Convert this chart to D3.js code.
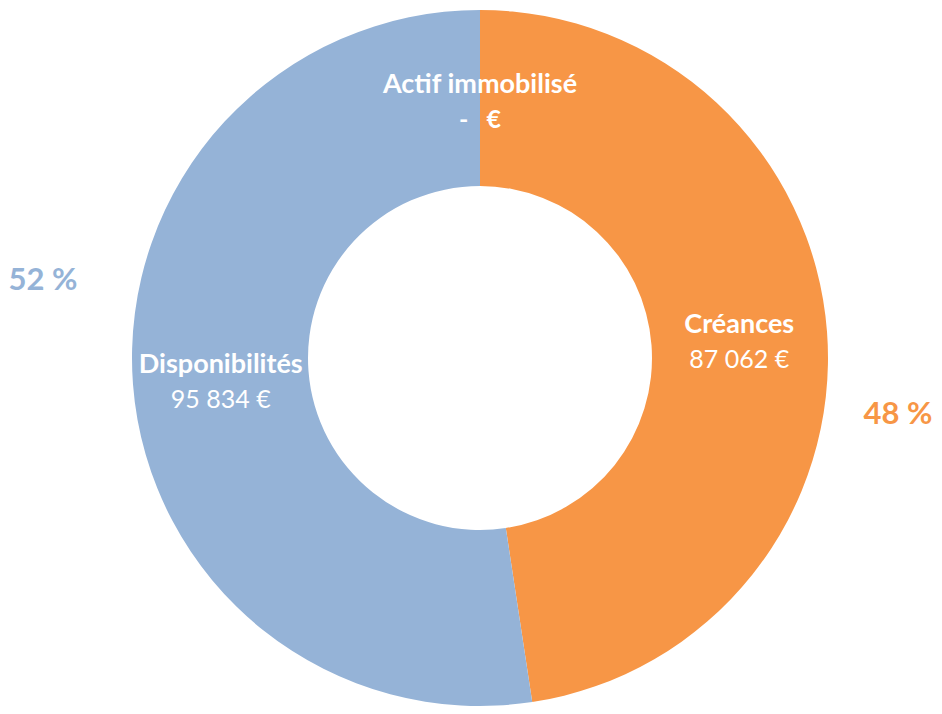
<!DOCTYPE html>
<html>
<head>
<meta charset="utf-8">
<script src="https://cdn.jsdelivr.net/npm/d3@7"></script>
<style>
  html, body { margin: 0; padding: 0; background: #fff; }
  svg { display: block; }
  text { font-family: Lato, "Open Sans", sans-serif; }
</style>
</head>
<body>
<svg id="chart" width="942" height="714"></svg>
<script>
// Répartition de l'actif
const categories = ["Actif immobilisé", "Créances", "Disponibilités"];
const values = [0, 87062, 95834];
const valueLabels = ["-   €", "87 062 €", "95 834 €"];
const colors = ["#95B3D7", "#F79646", "#95B3D7"];
const percentLabels = ["", "48 %", "52 %"];

const svg = d3.select("#chart");
const cx = 480, cy = 358;
const outerR = 348, innerR = 172;

const pie = d3.pie().sort(null).value(d => d.value);
const arcs = pie(categories.map((c, i) => ({ name: c, value: values[i], i })));

const arc = d3.arc().innerRadius(innerR).outerRadius(outerR);

const g = svg.append("g").attr("transform", `translate(${cx},${cy})`);

g.selectAll("path.slice")
  .data(arcs)
  .join("path")
  .attr("class", "slice")
  .attr("d", arc)
  .attr("fill", d => colors[d.data.i]);

// Libellés internes : nom + valeur au centre de chaque secteur
const lbl = g.selectAll("g.lbl")
  .data(arcs)
  .join("g")
  .attr("class", "lbl")
  .attr("transform", d => {
    const [x, y] = arc.centroid(d);
    return `translate(${x},${y})`;
  });

lbl.append("text")
  .attr("text-anchor", "middle")
  .attr("y", -5)
  .attr("fill", "#fff")
  .attr("font-weight", "bold")
  .attr("font-size", 27)
  .text(d => d.data.name);

lbl.append("text")
  .attr("text-anchor", "middle")
  .attr("y", 30)
  .attr("fill", "#fff")
  .attr("font-size", 25)
  .attr("font-weight", d => d.data.value === 0 ? "bold" : "normal")
  .style("white-space", "pre")
  .attr("xml:space", "preserve")
  .text(d => valueLabels[d.data.i]);

// Pourcentages à l'extérieur de l'anneau
const pctPos = { 1: [418, 66], 2: [-437, -68] };
g.selectAll("text.pct")
  .data(arcs.filter(d => percentLabels[d.data.i]))
  .join("text")
  .attr("class", "pct")
  .attr("text-anchor", "middle")
  .attr("x", d => pctPos[d.data.i][0])
  .attr("y", d => pctPos[d.data.i][1])
  .attr("fill", d => colors[d.data.i])
  .attr("font-weight", "bold")
  .attr("font-size", 31)
  .text(d => percentLabels[d.data.i]);
</script>
</body>
</html>
